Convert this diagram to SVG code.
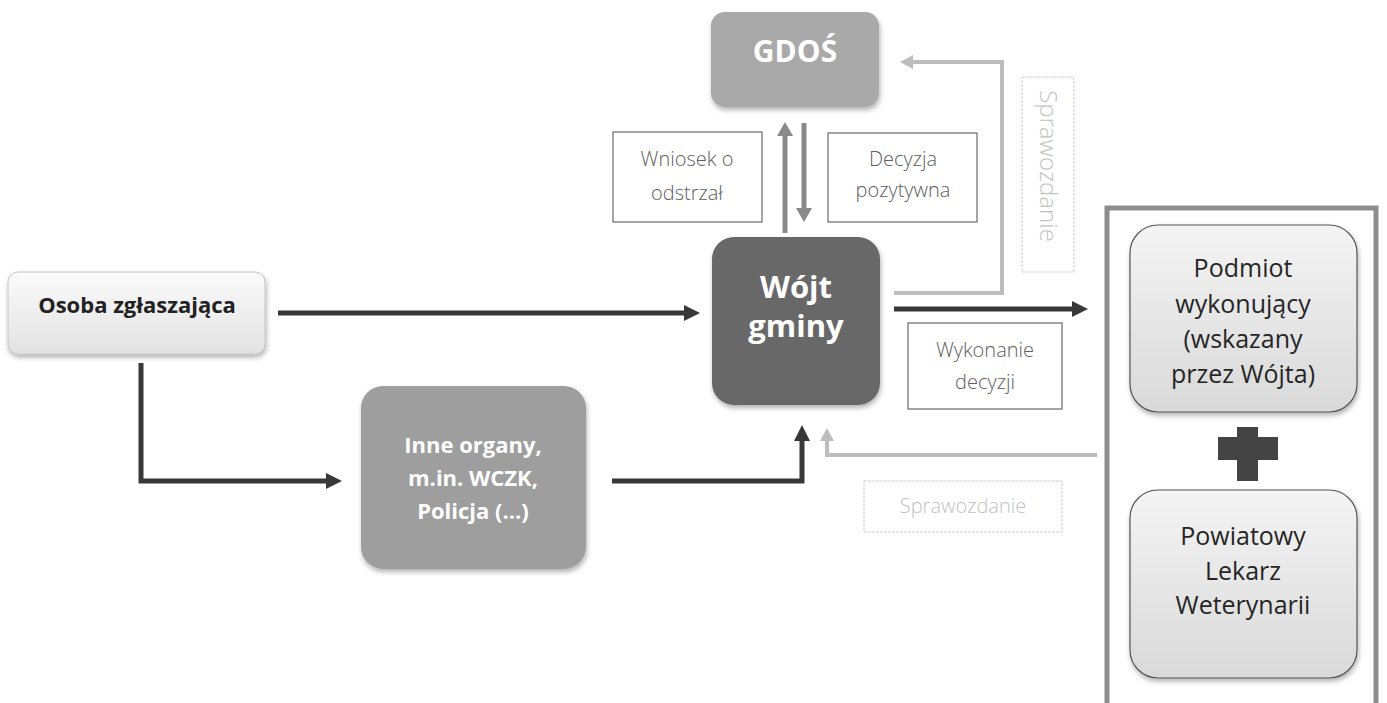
<svg xmlns="http://www.w3.org/2000/svg" width="1387" height="703" viewBox="0 0 1387 703">
<style>
.lbl{font-family:"Open Sans","Liberation Sans",sans-serif;text-anchor:middle}
.b{font-weight:700}
.wt{fill:#fff}
.thin{fill:#5e5e5e;font-size:20px;font-weight:300}
.tbox{fill:#fff;stroke:#6a6a6a;stroke-width:1.2}
.ghost{fill:#fff;stroke:#cfcfcf;stroke-width:1;stroke-dasharray:3 1}
.ghtxt{fill:#c2c2c2;font-weight:300}
.dark{fill:none;stroke:#383838;stroke-width:5}
.mid{fill:none;stroke:#8a8a8a;stroke-width:5}
.light{fill:none;stroke:#bdbdbd;stroke-width:4}
.rt{font-size:25px;fill:#262626}
</style>
<defs>
<linearGradient id="gLight" x1="0" y1="0" x2="0" y2="1">
<stop offset="0" stop-color="#fbfbfb"/><stop offset="1" stop-color="#e2e2e2"/>
</linearGradient>
<linearGradient id="gPanel" x1="0" y1="0" x2="0" y2="1">
<stop offset="0" stop-color="#f4f4f4"/><stop offset="1" stop-color="#d9d9d9"/>
</linearGradient>
<filter id="sh" x="-10%" y="-10%" width="125%" height="130%">
<feDropShadow dx="1" dy="3" stdDeviation="2.5" flood-color="#000" flood-opacity="0.3"/>
</filter>
<marker id="aDark" markerUnits="userSpaceOnUse" markerWidth="16" markerHeight="16" refX="4" refY="8" orient="auto">
<path d="M0,0 L16,8 L0,16 z" fill="#383838"/>
</marker>
<marker id="aMid" markerUnits="userSpaceOnUse" markerWidth="14" markerHeight="16" refX="4" refY="8" orient="auto">
<path d="M0,0 L14,8 L0,16 z" fill="#8a8a8a"/>
</marker>
<marker id="aLight" markerUnits="userSpaceOnUse" markerWidth="14" markerHeight="14" refX="4" refY="7" orient="auto">
<path d="M0,0 L13,7 L0,14 z" fill="#bdbdbd"/>
</marker>
</defs>
<rect width="1387" height="703" fill="#fff"/>

<g id="panel">
<rect x="1107" y="208" width="269" height="530" fill="#fff" stroke="#8d8d8d" stroke-width="5"/>
</g>

<g id="connectors">
<path class="dark" d="M278,313 H688" marker-end="url(#aDark)"/>
<path class="dark" d="M141,363 V481 H330" marker-end="url(#aDark)"/>
<path class="dark" d="M612,481 H802 V437" marker-end="url(#aDark)"/>
<path class="dark" d="M894,309 H1076" marker-end="url(#aDark)"/>
<path class="mid" d="M785,233 V132" marker-end="url(#aMid)"/>
<path class="mid" d="M804,123 V212" marker-end="url(#aMid)"/>
<path class="light" d="M894,293 H1002 V62 H909" marker-end="url(#aLight)"/>
<path class="light" d="M1097,455 H827 V437" marker-end="url(#aLight)"/>
</g>

<g id="osoba">
<rect x="8" y="272" width="257" height="82" rx="10" fill="url(#gLight)" stroke="#c4c4c4" stroke-width="1" filter="url(#sh)"/>
<text class="lbl b" x="137" y="313" font-size="22" fill="#222">Osoba zgłaszająca</text>
</g>

<g id="gdos">
<rect x="711" y="12" width="168" height="95" rx="14" fill="#a9a9a9" filter="url(#sh)"/>
<text class="lbl b wt" x="795" y="62" font-size="30">GDOŚ</text>
</g>

<g id="wojt">
<rect x="712" y="237" width="168" height="168" rx="22" fill="#676767" filter="url(#sh)"/>
<text class="lbl b wt" x="796" y="298" font-size="31">Wójt</text>
<text class="lbl b wt" x="796" y="337" font-size="31">gminy</text>
</g>

<g id="inne">
<rect x="361" y="386" width="225" height="183" rx="22" fill="#9e9e9e" filter="url(#sh)"/>
<text class="lbl b wt" x="473" y="453" font-size="22">Inne organy,</text>
<text class="lbl b wt" x="473" y="486" font-size="22">m.in. WCZK,</text>
<text class="lbl b wt" x="473" y="519" font-size="22">Policja (...)</text>
</g>

<g id="wniosek">
<rect class="tbox" x="613" y="132" width="149" height="90"/>
<text class="lbl thin" x="687" y="166">Wniosek o</text>
<text class="lbl thin" x="687" y="200">odstrzał</text>
</g>

<g id="decyzja">
<rect class="tbox" x="828" y="133" width="149" height="89"/>
<text class="lbl thin" x="903" y="166">Decyzja</text>
<text class="lbl thin" x="903" y="197">pozytywna</text>
</g>

<g id="wykonanie">
<rect class="tbox" x="908" y="323" width="154" height="86"/>
<text class="lbl thin" x="985" y="357">Wykonanie</text>
<text class="lbl thin" x="985" y="389">decyzji</text>
</g>

<g id="sprawozdanie-gdos">
<rect class="ghost" x="1022" y="77" width="52" height="195"/>
<text class="lbl ghtxt" transform="translate(1040,166) rotate(90)" x="0" y="0" font-size="24">Sprawozdanie</text>
</g>

<g id="sprawozdanie-wojt">
<rect class="ghost" x="864" y="481" width="198" height="51"/>
<text class="lbl ghtxt" x="963" y="513" font-size="20">Sprawozdanie</text>
</g>

<g id="podmiot">
<rect x="1130" y="225" width="227" height="187" rx="28" fill="url(#gPanel)" stroke="#555" stroke-width="1.2" filter="url(#sh)"/>
<text class="lbl rt" x="1243" y="277">Podmiot</text>
<text class="lbl rt" x="1243" y="313">wykonujący</text>
<text class="lbl rt" x="1243" y="348">(wskazany</text>
<text class="lbl rt" x="1243" y="383">przez Wójta)</text>
</g>

<g id="plus">
<rect x="1237" y="427" width="21" height="54" fill="#444"/>
<rect x="1218" y="437" width="60" height="23" fill="#444"/>
</g>

<g id="lekarz">
<rect x="1130" y="490" width="227" height="188" rx="28" fill="url(#gPanel)" stroke="#555" stroke-width="1.2" filter="url(#sh)"/>
<text class="lbl rt" x="1243" y="545">Powiatowy</text>
<text class="lbl rt" x="1243" y="580">Lekarz</text>
<text class="lbl rt" x="1243" y="614">Weterynarii</text>
</g>
</svg>
